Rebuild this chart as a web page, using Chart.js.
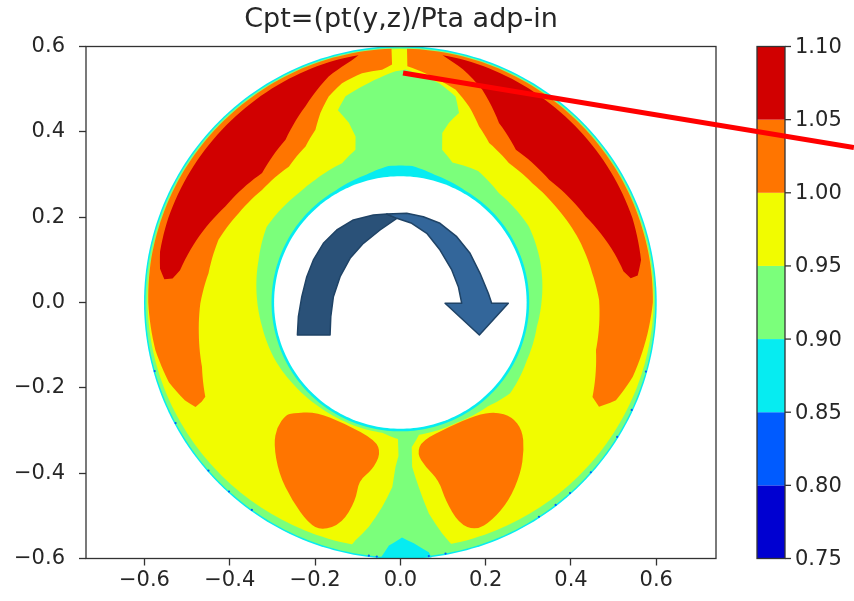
<!DOCTYPE html>
<html><head><meta charset="utf-8">
<script src="https://cdn.jsdelivr.net/npm/chart.js@4.4.0/dist/chart.umd.min.js"></script>
<style>html,body{margin:0;padding:0;background:#fff}#wrap{width:854px;height:601px}</style>
</head><body><div id="wrap"><canvas id="c" width="854" height="601"></canvas></div>
<script>
// ---- data ----
const titleText = 'Cpt=(pt(y,z)/Pta adp-in';
const xTicks = [-0.6,-0.4,-0.2,0.0,0.2,0.4,0.6];
const yTicks = [-0.6,-0.4,-0.2,0.0,0.2,0.4,0.6];
const levels = [0.75,0.80,0.85,0.90,0.95,1.00,1.05,1.10];
const levelColors = ['#0000d1','#005bff','#06ecf1','#7bff7b','#f1fc00','#ff7500','#d10000'];

// contour regions, polar points [angle deg, radius]
const outerRim   = [[0,0.601],[120,0.601],[240,0.601],[360,0.601]];
const greenRim   = [[0,0.5975],[120,0.5975],[240,0.5975],[360,0.5975]];
const yellowBase = [[0,0.594],[90,0.594],[180,0.593],[200,0.589],[220,0.584],[240,0.580],[260,0.578],[280,0.578],[300,0.580],[320,0.584],[340,0.589],[360,0.594]];
const orangeLeft = [[92,0.595],[110,0.595],[130,0.594],[150,0.594],[170,0.593],[180,0.591],[191,0.585],[199,0.574],[204.4,0.555],[207,0.539],[206.5,0.520],[205.8,0.508],[198,0.489],[188.7,0.478],[180.3,0.469],[171.3,0.455],[161,0.451],[151.1,0.433],[140.9,0.418],[129.4,0.412],[121.3,0.428],[116.2,0.451],[112.9,0.482],[109.2,0.511],[104.9,0.532],[99.5,0.545],[94.5,0.547],[92,0.558]];
const orangeRight = [[88.5,0.595],[70,0.595],[50,0.594],[30,0.594],[10,0.593],[0,0.592],[-7.2,0.584],[-17.7,0.572],[-24.4,0.555],[-27.7,0.526],[-26.2,0.502],[-13.7,0.472],[0.7,0.466],[8.7,0.455],[19.3,0.444],[31.7,0.428],[42.1,0.417],[52.1,0.414],[60.9,0.428],[65.9,0.452],[70.7,0.487],[75.4,0.515],[82,0.535],[88.3,0.554]];
const redLeft = [[99.6,0.588],[105,0.588],[115,0.586],[130,0.583],[145,0.581],[160,0.579],[168,0.576],[172,0.569],[174.4,0.556],[174,0.537],[171.7,0.522],[163,0.500],[151.3,0.468],[136.9,0.444],[125.2,0.467],[115.8,0.511],[107.6,0.556],[101.5,0.578]];
const redRight = [[80.3,0.588],[75,0.588],[65,0.586],[50,0.583],[35,0.581],[20,0.579],[10,0.573],[6.5,0.560],[6,0.543],[8,0.528],[12.9,0.515],[24.9,0.479],[39.5,0.452],[52.9,0.449],[61.2,0.480],[69,0.535],[75,0.566],[78.5,0.580]];
const greenInner = [[-77.3,0.592],[-79.7,0.551],[-82.3,0.499],[-84.3,0.435],[-85.9,0.386],[-85.5,0.340],[-82,0.313],[-65,0.311],[-50,0.318],[-39.6,0.334],[-24.5,0.326],[-10,0.325],[0.3,0.331],[16.9,0.342],[30.5,0.350],[48,0.345],[59.4,0.358],[69.6,0.350],[74.7,0.371],[76.1,0.409],[74.9,0.436],[72.8,0.465],[75,0.500],[80,0.522],[88.7,0.546],[91.2,0.542],[98.2,0.520],[104.9,0.500],[108,0.474],[106,0.438],[105.1,0.403],[106.4,0.373],[112.7,0.354],[124.7,0.350],[132.9,0.350],[150.6,0.360],[163.3,0.347],[179,0.336],[189.9,0.329],[204.7,0.323],[218.8,0.315],[232,0.310],[245,0.308],[262,0.308],[269,0.320],[269.3,0.360],[268.3,0.386],[267.5,0.433],[264.9,0.481],[262,0.531],[259.3,0.567],[258,0.592],[282.7,0.592]];
const cyanBottom = [[-94.5,0.602],[-92.7,0.570],[-89.6,0.551],[-86.8,0.565],[-83.5,0.589],[-83,0.602]];
const cyanInner = [[0,0.302],[60,0.303],[75,0.310],[85,0.321],[95,0.321],[105,0.310],[120,0.303],[180,0.302],[270,0.302],[360,0.302]];
const holeWhite = [[0,0.296],[120,0.296],[240,0.296],[360,0.296]];
// blobs in x,y data coordinates
const orangeLowLeft = [[-0.254,-0.260],[-0.199,-0.256],[-0.129,-0.284],[-0.058,-0.323],[-0.046,-0.354],[-0.066,-0.393],[-0.097,-0.417],[-0.105,-0.464],[-0.137,-0.518],[-0.184,-0.534],[-0.215,-0.518],[-0.254,-0.464],[-0.285,-0.401],[-0.297,-0.331],[-0.289,-0.292],[-0.269,-0.264]];
const orangeLowRight = [[0.223,-0.256],[0.262,-0.268],[0.286,-0.299],[0.290,-0.346],[0.282,-0.401],[0.255,-0.464],[0.215,-0.511],[0.177,-0.534],[0.137,-0.518],[0.106,-0.464],[0.090,-0.417],[0.059,-0.385],[0.039,-0.354],[0.051,-0.323],[0.114,-0.292],[0.177,-0.264]];
// scattered low-value dots on the rim (angle deg)
const blueDots = [195.6,208.2,221.2,227.8,234.4,262.9,-15.7,-24.9,-31.8,-41.7,-48.3,-52.5,-57.1,-83.6,-79.8,-95.3];

// layers: [kind, points, level band index]
const layers = [
  ['polar', outerRim, 2], ['polar', greenRim, 3], ['polar', yellowBase, 4],
  ['polar', orangeLeft, 5], ['polar', orangeRight, 5],
  ['xy', orangeLowLeft, 5], ['xy', orangeLowRight, 5],
  ['polar', redLeft, 6], ['polar', redRight, 6],
  ['polar', greenInner, 3], ['polar', cyanBottom, 2], ['polar', cyanInner, 2]
];

// annotation: curved arrow and red line (data coords)
const arrowLeft = [[-0.2414,-0.0762],[-0.2391,-0.0333],[-0.2311,0.0136],[-0.2194,0.0605],[-0.2039,0.0996],[-0.1805,0.1387],[-0.1491,0.1699],[-0.1102,0.1934],[-0.0633,0.2051],[-0.0319,0.2074],[-0.0084,0.1973],[-0.0476,0.1699],[-0.0867,0.1387],[-0.1179,0.1036],[-0.1413,0.0605],[-0.1570,0.0136],[-0.1631,-0.0333],[-0.1648,-0.0762]];
const arrowRight = [[-0.0319,0.2074],[0.0150,0.2091],[0.0539,0.2011],[0.0930,0.1856],[0.1322,0.1542],[0.1634,0.1153],[0.1868,0.0684],[0.2062,0.0216],[0.2141,-0.0019],[0.2531,-0.0019],[0.1852,-0.0762],[0.1048,-0.0019],[0.1439,-0.0019],[0.1359,0.0370],[0.1205,0.0762],[0.0930,0.1230],[0.0619,0.1622],[0.0267,0.1856],[-0.0084,0.1973]];
const redLine = [[0.0063,0.5379],[1.0633,0.3633]];

// ---- drawing ----
const FONT = "'DejaVu Sans', sans-serif";
function fmt(v){ const s = Math.abs(v).toFixed(1); return (v < -1e-9 ? '\u2212' : '') + s; }

function polarPath(ctx, xs, ys, pts){
  const P = (t, r) => [xs.getPixelForValue(r*Math.cos(t*Math.PI/180)), ys.getPixelForValue(r*Math.sin(t*Math.PI/180))];
  ctx.beginPath();
  let p = P(pts[0][0], pts[0][1]); ctx.moveTo(p[0], p[1]);
  for (let i = 1; i < pts.length; i++){
    const [t0, r0] = pts[i-1], [t1, r1] = pts[i];
    const n = Math.max(1, Math.ceil(Math.abs(t1 - t0) / 1.5));
    for (let k = 1; k <= n; k++){ const f = k/n; p = P(t0 + (t1-t0)*f, r0 + (r1-r0)*f); ctx.lineTo(p[0], p[1]); }
  }
  ctx.closePath();
}
function smoothPath(ctx, xs, ys, pts){
  const q = pts.map(([x,y]) => [xs.getPixelForValue(x), ys.getPixelForValue(y)]);
  const n = q.length;
  ctx.beginPath();
  const m0 = [(q[n-1][0]+q[0][0])/2, (q[n-1][1]+q[0][1])/2];
  ctx.moveTo(m0[0], m0[1]);
  for (let i = 0; i < n; i++){
    const a = q[i], b = q[(i+1)%n];
    ctx.quadraticCurveTo(a[0], a[1], (a[0]+b[0])/2, (a[1]+b[1])/2);
  }
  ctx.closePath();
}
function polyPath(ctx, xs, ys, pts){
  ctx.beginPath();
  pts.forEach(([x,y], i) => { const px = xs.getPixelForValue(x), py = ys.getPixelForValue(y); i ? ctx.lineTo(px,py) : ctx.moveTo(px,py); });
  ctx.closePath();
}

const contourPlugin = {
  id: 'contour',
  beforeDatasetsDraw(chart){
    const {ctx, chartArea: a, scales: {x, y}} = chart;
    ctx.save();
    ctx.beginPath(); ctx.rect(a.left, a.top, a.right - a.left, a.bottom - a.top); ctx.clip();
    for (const [kind, pts, band] of layers){
      if (kind === 'polar') polarPath(ctx, x, y, pts); else smoothPath(ctx, x, y, pts);
      ctx.fillStyle = levelColors[band]; ctx.fill();
    }
    ctx.fillStyle = levelColors[1];
    for (const t of blueDots){
      const r = 0.598;
      ctx.beginPath();
      ctx.arc(x.getPixelForValue(r*Math.cos(t*Math.PI/180)), y.getPixelForValue(r*Math.sin(t*Math.PI/180)), 1.1, 0, 2*Math.PI);
      ctx.fill();
    }
    polarPath(ctx, x, y, holeWhite); ctx.fillStyle = '#ffffff'; ctx.fill();
    ctx.restore();
  },
  afterDraw(chart){
    const {ctx, chartArea: a, scales: {x, y, cb}} = chart;
    ctx.save();
    // frame
    ctx.strokeStyle = '#333333'; ctx.lineWidth = 1.3;
    ctx.strokeRect(a.left, a.top, a.right - a.left, a.bottom - a.top);
    // colorbar
    const cx0 = 757, cx1 = 785;
    for (let i = 0; i < levelColors.length; i++){
      const yTop = cb.getPixelForValue(levels[i+1]), yBot = cb.getPixelForValue(levels[i]);
      ctx.fillStyle = levelColors[i];
      ctx.fillRect(cx0, yTop, cx1 - cx0, yBot - yTop);
    }
    ctx.strokeRect(cx0, cb.getPixelForValue(levels[levels.length-1]), cx1 - cx0, cb.getPixelForValue(levels[0]) - cb.getPixelForValue(levels[levels.length-1]));
    ctx.fillStyle = '#262626'; ctx.font = '21px ' + FONT; ctx.textAlign = 'left'; ctx.textBaseline = 'middle';
    for (const v of levels){
      const py = cb.getPixelForValue(v);
      ctx.beginPath(); ctx.moveTo(cx1, py); ctx.lineTo(cx1 + 6, py); ctx.stroke();
      ctx.fillText(v.toFixed(2), cx1 + 10, py + 1);
    }
    // curved arrow
    ctx.lineJoin = 'round';
    ctx.strokeStyle = '#1f4366'; ctx.lineWidth = 1.5;
    polyPath(ctx, x, y, arrowLeft); ctx.fillStyle = '#2a5178'; ctx.fill(); ctx.stroke();
    polyPath(ctx, x, y, arrowRight); ctx.fillStyle = '#33669a'; ctx.fill(); ctx.stroke();
    // red line
    ctx.strokeStyle = '#ff0000'; ctx.lineWidth = 5; ctx.lineCap = 'butt';
    ctx.beginPath();
    ctx.moveTo(x.getPixelForValue(redLine[0][0]), y.getPixelForValue(redLine[0][1]));
    ctx.lineTo(x.getPixelForValue(redLine[1][0]), y.getPixelForValue(redLine[1][1]));
    ctx.stroke();
    ctx.restore();
  }
};

const tickFont = {family: FONT, size: 21};
new Chart(document.getElementById('c'), {
  type: 'scatter',
  data: {datasets: []},
  options: {
    responsive: false, animation: false, devicePixelRatio: 1,
    layout: {padding: {left: 0, right: 138, top: 0, bottom: 0}},
    plugins: {
      legend: {display: false}, tooltip: {enabled: false},
      title: {display: true, text: titleText, fullSize: false, color: '#262626',
              font: {family: FONT, size: 27, weight: 'normal', lineHeight: 1.2}, padding: {top: 4, bottom: 10.1}}
    },
    scales: {
      x: {type: 'linear', min: -0.737, max: 0.740,
          afterBuildTicks: s => { s.ticks = xTicks.map(v => ({value: v})); },
          afterFit: s => { s.height = 42.5; },
          ticks: {callback: v => fmt(v), font: tickFont, color: '#262626', padding: 2, maxRotation: 0, autoSkip: false},
          grid: {display: true, drawOnChartArea: false, drawTicks: true, tickLength: 7, tickColor: '#333333', tickWidth: 1.3},
          border: {display: false}},
      y: {type: 'linear', min: -0.6, max: 0.6,
          afterBuildTicks: s => { s.ticks = yTicks.map(v => ({value: v})); },
          afterFit: s => { s.width = 86; },
          ticks: {callback: v => fmt(v), font: tickFont, color: '#262626', padding: 14, autoSkip: false},
          grid: {display: true, drawOnChartArea: false, drawTicks: true, tickLength: 7, tickColor: '#333333', tickWidth: 1.3},
          border: {display: false}},
      cb: {type: 'linear', axis: 'y', position: 'right', display: false, min: levels[0], max: levels[levels.length-1]}
    }
  },
  plugins: [contourPlugin]
});
</script>
</body></html>
